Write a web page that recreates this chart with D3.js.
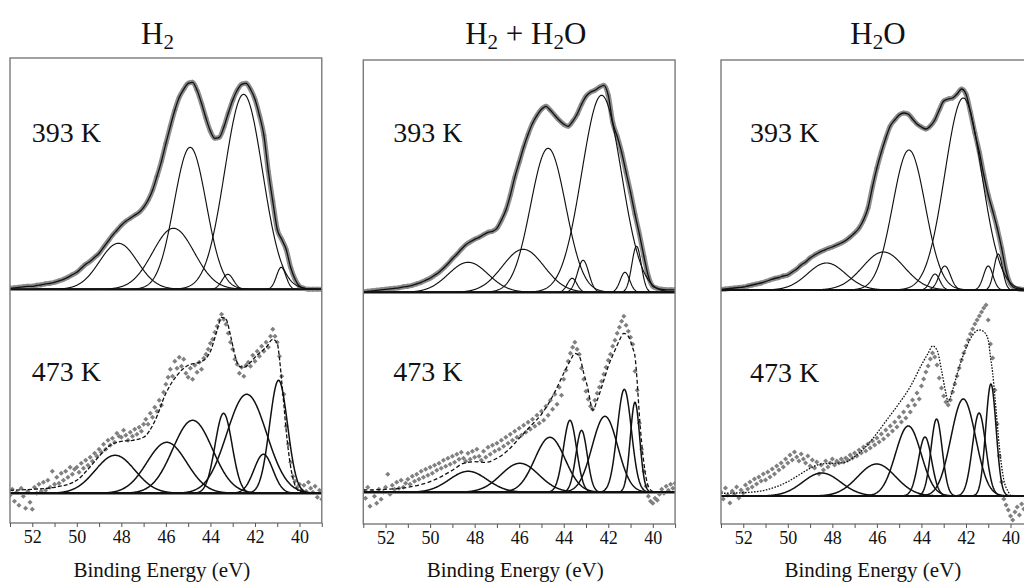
<!DOCTYPE html>
<html><head><meta charset="utf-8">
<script src="https://cdn.jsdelivr.net/npm/d3@7"></script>
<style>
body{margin:0;background:#fff}
svg{display:block}
text{font-family:"Liberation Serif","Times New Roman",serif;fill:#111}
</style>
</head><body>
<svg id="c" width="1024" height="582"></svg>
<script>
// ================= DATA =================
const conditions = ["H2", "H2 + H2O", "H2O"];
// title pieces: [text, isSubscript]
const titleParts = [
  [["H",0],["2",1]],
  [["H",0],["2",1],[" + H",0],["2",1],["O",0]],
  [["H",0],["2",1],["O",0]]
];
const temperatures = ["393 K", "473 K"];
const xTicksMajor = [52, 50, 48, 46, 44, 42, 40];
const xTicksMinor = [53, 51, 49, 47, 45, 43, 41, 39];
const energyRange = [53, 39];
const axisTitle = "Binding Energy (eV)";
// vertical offset (a.u.) of the 393 K spectrum above the 473 K one
const offset393 = [204, 200, 206];

// 393 K measured spectra, 53.0 -> 39.0 eV, step 0.2 eV
const step393 = 0.2;
const data393_H2 = [
  1, 1.5, 2, 2.5, 3,
  3, 4, 4.5, 5.5, 6,
  7, 8.5, 10, 12, 14.5,
  17, 21, 25, 28, 32,
  36, 42, 48, 54, 59,
  64, 68, 71, 74, 77,
  82, 89, 99, 113, 128,
  146, 163, 179, 192, 200,
  206, 207, 199, 186, 171,
  158, 151, 152, 162, 176,
  189, 199, 205, 206, 200,
  190, 174, 154, 118, 88,
  60, 50, 40, 22, 10,
  3, 1, 0, 0, 0,
  0];
const data393_H2H2O = [
  0.5, 1, 1.5, 2, 2.5,
  3, 3.5, 4, 4.5, 5.5,
  6, 7, 8.5, 10, 12,
  14, 17, 20, 24, 28.5,
  33.5, 38, 43, 47.5, 50.5,
  53, 55, 57.5, 60, 61,
  64, 72, 82, 97, 115,
  130, 145, 158, 169, 177,
  183, 186, 182, 177, 172,
  168, 166, 171, 178, 188,
  196, 200, 202, 205, 207,
  197, 170, 156, 140, 120,
  100, 78, 58, 36, 16,
  6, 4, 3, 2.5, 2.5,
  2.5];
const data393_H2O = [
  0.5, 1, 1.5, 2, 2.5,
  3, 4, 5, 6, 7,
  8.5, 10, 11.5, 12.5, 14,
  15, 18, 21, 25, 28,
  32, 35, 37.5, 39.5, 41.5,
  43, 45, 47, 49.5, 53,
  57, 62, 70, 82, 103,
  122, 138, 152, 164, 170,
  175, 177, 176, 171, 166,
  163, 161, 164, 170, 180,
  189, 191, 192, 196, 201,
  196, 178, 157, 138, 115,
  95, 79, 62, 42, 19,
  6, 2, 1, 0.5, 0.5,
  0.5];

// 473 K measured spectra, 53.0 -> 39.0 eV, step 0.1 eV
const step473 = 0.1;
const data473_H2 = [
  -2, 4, -8, 1, -12, 5, -3, -15, 2, -9,
  -16, 6, 0, 9, 2, 11, 3, 13, 6, 22,
  9, 16, 10, 20, 13, 22, 16, 26, 19, 24,
  26, 21, 30, 25, 33, 28, 36, 32, 40, 37,
  44, 41, 49, 44, 53, 48, 55, 51, 60, 57,
  56, 63, 58, 53, 61, 57, 64, 59, 66, 62,
  69, 74, 69, 80, 76, 86, 82, 93, 88, 101,
  109, 116, 124, 117, 132, 125, 136, 127, 134, 120,
  116, 125, 114, 128, 121, 131, 124, 135, 139, 144,
  150, 154, 161, 167, 173, 179, 174, 169, 160, 151,
  144, 134, 129, 120, 126, 117, 128, 131, 127, 138,
  132, 142, 137, 147, 142, 151, 146, 157, 164, 157,
  151, 137, 117, 99, 67, 49, 31, 17, 12, 6,
  9, 3, 8, 2, 11, 5, 1, 7, -4, 3,
  -6];
const data473_H2H2O = [
  2, -6, 5, -14, 1, -4, -11, 3, -7, 0,
  5, 18, -2, 7, 3, 10, 4, 12, 5, 9,
  13, 8, 16, 11, 18, 13, 21, 15, 23, 17,
  25, 19, 27, 22, 29, 24, 32, 26, 34, 28,
  36, 30, 38, 33, 40, 34, 31, 39, 33, 41,
  35, 43, 36, 32, 41, 35, 45, 38, 47, 41,
  49, 43, 52, 46, 55, 49, 58, 52, 61, 55,
  64, 57, 67, 60, 70, 63, 73, 66, 77, 69,
  81, 72, 86, 77, 92, 83, 98, 88, 105, 97,
  113, 122, 131, 139, 145, 150, 143, 138, 124, 113,
  101, 93, 86, 83, 92, 99, 105, 111, 118, 125,
  132, 138, 146, 152, 159, 165, 171, 176, 167, 161,
  155, 148, 121, 102, 69, 43, 21, 6, -4, -9,
  -11, -6, -8, -2, 3, -1, 6, 2, 8, 4,
  9];
const data473_H2O = [
  4, -3, 8, 1, -7, 5, 2, 9, -2, 6,
  3, 11, 7, 14, 9, 17, 12, 19, 15, 22,
  16, 24, 19, 27, 22, 30, 26, 33, 29, 37,
  33, 41, 36, 44, 39, 35, 42, 37, 33, 40,
  30, 36, 28, 34, 22, 31, 26, 35, 29, 33,
  37, 31, 35, 33, 37, 34, 38, 36, 41, 38,
  43, 40, 46, 43, 49, 45, 52, 48, 55, 51,
  58, 54, 62, 57, 66, 61, 70, 65, 74, 69,
  79, 74, 84, 78, 90, 84, 96, 91, 103, 97,
  110, 117, 124, 130, 137, 143, 139, 131, 118, 108,
  100, 94, 91, 96, 104, 112, 120, 128, 136, 143,
  150, 156, 162, 167, 172, 176, 180, 184, 188, 191,
  176, 152, 138, 106, 72, 40, 14, -3, -9, -14,
  -20, -24, -16, -11, -19, -8, -13, -5, -10, -3,
  -7];

// 473 K fit envelopes (energy, intensity)
const fit473E_H2 = [53, 52, 51, 50, 49.5, 49, 48.5, 48, 47.5, 47, 46.5, 46, 45.5, 45, 44.5, 44.2, 44, 43.7, 43.5, 43.3, 43.1, 42.9, 42.7, 42.5, 42.2, 42, 41.7, 41.5, 41.2, 41.0, 40.9, 40.8, 40.7, 40.6, 40.4, 40.2, 40, 39.5, 39];
const fit473I_H2 = [3, 4, 6, 13, 24, 37, 48, 52, 53, 56, 72, 100, 118, 128, 131, 135, 142, 163, 176, 174, 158, 138, 127, 126, 131, 136, 142, 146, 154, 150, 135, 112, 88, 63, 27, 8, 2, 0, 0];
const fit473E_H2H2O = [53, 52, 51, 50, 49, 48.5, 48, 47.5, 47, 46.5, 46, 45.5, 45, 44.5, 44, 43.7, 43.5, 43.3, 43.1, 42.9, 42.8, 42.7, 42.5, 42.2, 42, 41.7, 41.5, 41.3, 41.1, 40.9, 40.8, 40.7, 40.6, 40.4, 40.2, 40, 39.5, 39];
const fit473I_H2H2O = [2.3, 3, 5, 10.6, 22, 29, 30.6, 30, 34, 42, 54, 66, 78, 96, 119, 132, 139, 136, 119, 102, 90, 82, 92, 112, 126, 142, 152, 159, 156, 144, 136, 110, 76, 29, 6, 1, 0, 0];
const fit473E_H2O = [53, 52, 51, 50, 49.5, 49, 48.5, 48, 47.5, 47, 46.5, 46, 45.5, 45, 44.5, 44, 43.7, 43.5, 43.3, 43.1, 42.9, 42.8, 42.6, 42.3, 42, 41.7, 41.4, 41.2, 41, 40.9, 40.8, 40.7, 40.5, 40.3, 40.1, 40, 39.5, 39];
const fit473I_H2O = [2.7, 3.3, 6, 14.3, 21, 27.7, 32, 32.7, 33.3, 39.3, 49.3, 62.7, 77.7, 92.7, 109.3, 131, 142.7, 150, 146, 126, 102.7, 94.3, 106, 129.3, 147.7, 161, 166, 164.3, 156, 139, 123, 99, 49, 16, 4.3, 0.7, 0, 0];

// fitted components: centre (eV), height (a.u.), FWHM (eV)
const comp393_H2 = {c: [48.13, 45.66, 44.91, 43.22, 42.51, 40.82], h: [46, 61, 142, 15, 195, 22], w: [2.0, 2.2, 1.7, 0.6, 2.0, 0.5]};
const comp473_H2 = {c: [48.28, 45.96, 44.80, 43.41, 42.37, 41.62, 40.94], h: [38, 51, 73, 80, 99, 39, 113], w: [2.1, 2.1, 2.1, 0.9, 2.1, 1.0, 0.95]};
const comp393_H2H2O = {c: [48.29, 45.82, 44.70, 43.62, 43.13, 42.30, 41.25, 40.73], h: [30, 43, 144, 14, 32, 197, 20, 46], w: [2.1, 2.2, 1.85, 0.5, 0.6, 2.1, 0.5, 0.5]};
const comp473_H2H2O = {c: [48.29, 45.97, 44.62, 43.72, 43.20, 42.15, 41.28, 40.80], h: [21, 29, 55, 72, 62, 76, 103, 90], w: [2.0, 2.0, 1.6, 0.7, 0.6, 1.35, 0.75, 0.5]};
const comp393_H2O = {c: [48.26, 45.71, 44.56, 43.39, 42.95, 42.12, 41.0, 40.55], h: [27, 38, 140, 16, 24, 192, 24, 36], w: [2.0, 2.2, 1.72, 0.5, 0.6, 1.95, 0.5, 0.45]};
const comp473_H2O = {c: [48.48, 46.01, 44.59, 43.84, 43.32, 42.12, 41.41, 40.88], h: [23, 32, 70, 59, 77, 97, 83, 112], w: [2.0, 2.0, 1.35, 0.7, 0.6, 1.3, 0.7, 0.55]};

const panelsData = [
  {d393: data393_H2, d473: data473_H2, fE: fit473E_H2, fI: fit473I_H2, c393: comp393_H2, c473: comp473_H2},
  {d393: data393_H2H2O, d473: data473_H2H2O, fE: fit473E_H2H2O, fI: fit473I_H2H2O, c393: comp393_H2H2O, c473: comp473_H2H2O},
  {d393: data393_H2O, d473: data473_H2O, fE: fit473E_H2O, fI: fit473I_H2O, c393: comp393_H2O, c473: comp473_H2O}
];

// ================= LAYOUT =================
const layout = [
  {left: 10, top: 58, bottom: 523, base: 493.3, titleX: 157.5, labelX: 31.7, y393: 141.7, y473: 380.7, dash: "4,2"},
  {left: 363.3, top: 60, bottom: 524, base: 492.3, titleX: 525.8, labelX: 393.3, y393: 141.7, y473: 380.7, dash: "4,2.5"},
  {left: 721, top: 60, bottom: 524, base: 496, titleX: 878, labelX: 750, y393: 141.7, y473: 381.7, dash: "1.6,1.4"}
];
const pxPerEv = 22.27;
const svg = d3.select("#c");
const defs = svg.append("defs");
const serif = '"Liberation Serif","Times New Roman",serif';

const gauss = (E, c, h, w) => h * Math.exp(-4 * Math.LN2 * (E - c) * (E - c) / (w * w));
const compGrid = d3.range(53, 38.99, -0.02);

layout.forEach((L, p) => {
  const D = panelsData[p];
  const right = L.left + 14 * pxPerEv;
  const x = d3.scaleLinear().domain(energyRange).range([L.left, right]);
  const y = d3.scaleLinear().domain([-(L.bottom - L.base), L.base - L.top]).range([L.bottom, L.top]);
  const off = offset393[p];

  defs.append("clipPath").attr("id", "clip" + p)
    .append("rect").attr("x", L.left).attr("y", L.top).attr("width", right - L.left).attr("height", L.bottom - L.top);
  const g = svg.append("g").attr("clip-path", `url(#clip${p})`);

  // baselines
  [0, off].forEach(b => {
    g.append("line").attr("x1", L.left).attr("x2", right).attr("y1", y(b)).attr("y2", y(b))
      .attr("stroke", "#111").attr("stroke-width", 2.2);
  });

  const dot = d3.symbol(d3.symbolSquare);

  // ---- 393 K ----
  const pts393 = D.d393.map((v, i) => [53 - i * step393, v + off]);
  const line = d3.line().x(d => x(d[0])).y(d => y(d[1])).curve(d3.curveMonotoneX);
  g.append("path").attr("d", line(pts393)).attr("fill", "none")
    .attr("stroke", "#8e8e8e").attr("stroke-width", 5).attr("stroke-linejoin", "round");
  g.selectAll(null).data(pts393).enter().append("path")
    .attr("d", dot.size(15)())
    .attr("transform", d => `translate(${x(d[0])},${y(d[1])}) rotate(45)`)
    .attr("fill", "#888");
  D.c393.c.forEach((c, k) => {
    const pts = compGrid.map(E => [E, off + gauss(E, c, D.c393.h[k], D.c393.w[k])]);
    g.append("path").attr("d", d3.line().x(d => x(d[0])).y(d => y(d[1]))(pts))
      .attr("fill", "none").attr("stroke", "#111").attr("stroke-width", 1.15);
  });
  g.append("path").attr("d", line(pts393)).attr("fill", "none")
    .attr("stroke", "#111").attr("stroke-width", 1.3);

  // ---- 473 K ----
  const pts473 = D.d473.map((v, i) => [53 - i * step473, v]);
  g.selectAll(null).data(pts473).enter().append("path")
    .attr("d", dot.size(13)())
    .attr("transform", d => `translate(${x(d[0])},${y(d[1])}) rotate(45)`)
    .attr("fill", "#808080");
  D.c473.c.forEach((c, k) => {
    const pts = compGrid.map(E => [E, gauss(E, c, D.c473.h[k], D.c473.w[k])]);
    g.append("path").attr("d", d3.line().x(d => x(d[0])).y(d => y(d[1]))(pts))
      .attr("fill", "none").attr("stroke", "#111").attr("stroke-width", 1.5);
  });
  const fitPts = D.fE.map((e, i) => [e, D.fI[i]]);
  g.append("path").attr("d", line(fitPts)).attr("fill", "none")
    .attr("stroke", "#111").attr("stroke-width", 1.3).attr("stroke-dasharray", L.dash);

  // frame
  svg.append("rect").attr("x", L.left).attr("y", L.top).attr("width", right - L.left).attr("height", L.bottom - L.top)
    .attr("fill", "none").attr("stroke", "#7a7a7a").attr("stroke-width", 1.4);

  // axes
  const ax = svg.append("g").attr("transform", `translate(0,${L.bottom})`)
    .call(d3.axisBottom(x).tickValues(xTicksMajor).tickSize(4).tickPadding(3.5).tickSizeOuter(0));
  ax.attr("font-family", null);
  ax.select(".domain").remove();
  ax.selectAll("line").attr("stroke", "#555");
  ax.selectAll("text").style("font-size", "18px").style("font-family", serif).attr("fill", "#111");
  const axm = svg.append("g").attr("transform", `translate(0,${L.bottom})`)
    .call(d3.axisBottom(x).tickValues(xTicksMinor).tickSize(4).tickFormat(""));
  axm.select(".domain").remove();
  axm.selectAll("line").attr("stroke", "#555");

  svg.append("text").attr("x", L.left + 7 * pxPerEv - 4).attr("y", 577)
    .attr("text-anchor", "middle").style("font-family", serif).style("font-size", "21px").text(axisTitle);

  // temperature labels
  svg.append("text").attr("x", L.labelX).attr("y", L.y393).style("font-family", serif).style("font-size", "28px").text(temperatures[0]);
  svg.append("text").attr("x", L.labelX).attr("y", L.y473).style("font-family", serif).style("font-size", "28px").text(temperatures[1]);

  // title
  const t = svg.append("text").attr("x", L.titleX).attr("y", 44).attr("text-anchor", "middle")
    .style("font-family", serif).style("font-size", "31px");
  let sub = false;
  titleParts[p].forEach(([txt, s]) => {
    const ts = t.append("tspan").text(txt);
    if (s && !sub) { ts.attr("dy", 5).style("font-size", "21px"); sub = true; }
    else if (s) { ts.style("font-size", "21px"); }
    else if (!s && sub) { ts.attr("dy", -5); sub = false; }
  });
});
</script>
</body></html>
